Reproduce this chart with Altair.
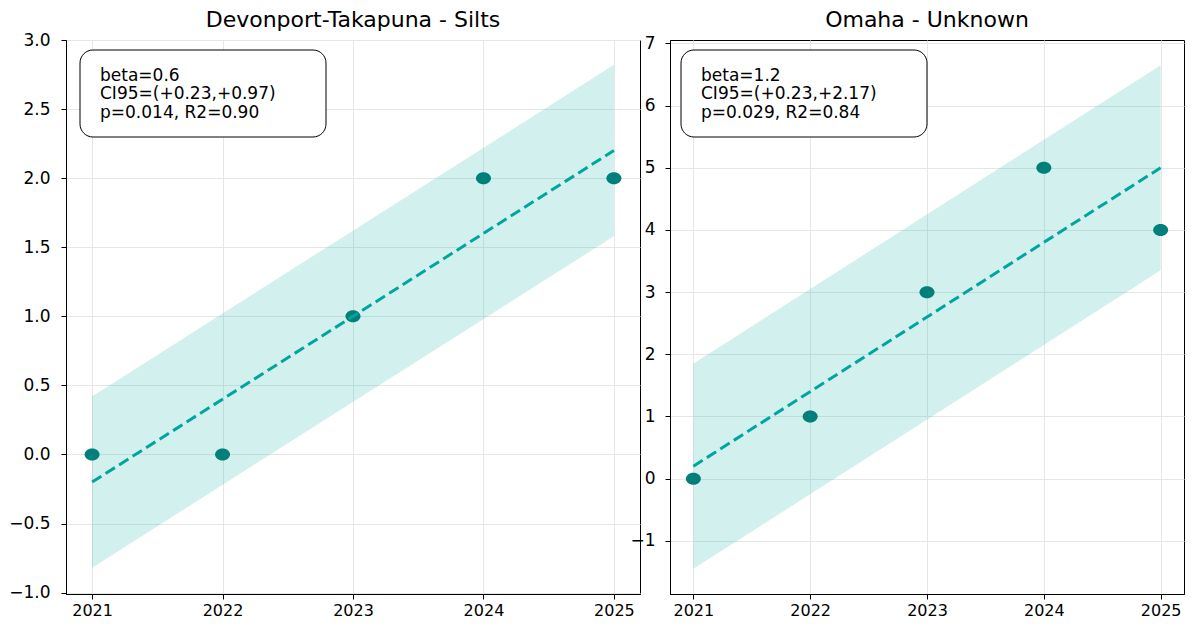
import altair as alt
import pandas as pd

# ---- data ----
years = [2021, 2022, 2023, 2024, 2025]
fit_years = [2021, 2025]

left_title = "Devonport-Takapuna - Silts"
left_counts = [0, 0, 1, 2, 2]
left_fit = [-0.2, 2.2]
left_lo = [-0.82, 1.58]
left_hi = [0.42, 2.82]
left_stats = "beta=0.6\nCI95=(+0.23,+0.97)\np=0.014, R2=0.90"
left_yticks = [-1.0, -0.5, 0.0, 0.5, 1.0, 1.5, 2.0, 2.5, 3.0]
left_ydomain = [-1.01, 3.0]

right_title = "Omaha - Unknown"
right_counts = [0, 1, 3, 5, 4]
right_fit = [0.2, 5.0]
right_lo = [-1.45, 3.35]
right_hi = [1.85, 6.65]
right_stats = "beta=1.2\nCI95=(+0.23,+2.17)\np=0.029, R2=0.84"
right_yticks = [-1, 0, 1, 2, 3, 4, 5, 6, 7]
right_ydomain = [-1.855, 7.055]

xdomain = [2020.8, 2025.2]

ELLIPSE = "M-1,0 A1,0.8 0 1,0 1,0 A1,0.8 0 1,0 -1,0 Z"
BAND_COLOR = "#20B2AA"
LINE_COLOR = "#00A59F"
POINT_COLOR = "#007F7B"
PLOT_H = 554


def panel(title, counts, fit, lo, hi, stats, yticks, ydomain, yfmt, width, ypad,
          box_x, title_offset):
    pts = pd.DataFrame({"year": years, "count": counts})
    fitdf = pd.DataFrame({"year": fit_years, "fit": fit, "lo": lo, "hi": hi})
    sdf = pd.DataFrame({"stats": [stats]})

    xenc = alt.X(
        "year:Q",
        scale=alt.Scale(domain=xdomain, nice=False, zero=False),
        axis=alt.Axis(values=years, format="d", title=None, labelFontSize=16,
                      tickSize=5, labelPadding=3),
    )
    yscale = alt.Scale(domain=ydomain, nice=False, zero=False)
    yaxis = alt.Axis(values=yticks, format=yfmt, title=None,
                     labelFontSize=17, tickSize=5, labelPadding=ypad)

    band = alt.Chart(fitdf).mark_area(color=BAND_COLOR, opacity=0.2).encode(
        x=xenc, y=alt.Y("lo:Q", scale=yscale, axis=yaxis), y2="hi:Q"
    )
    points = alt.Chart(pts).mark_point(
        shape=ELLIPSE, size=225, filled=True, color=POINT_COLOR, opacity=1
    ).encode(x=xenc, y=alt.Y("count:Q", scale=yscale, axis=yaxis))
    line = alt.Chart(fitdf).mark_line(
        color=LINE_COLOR, strokeDash=[11, 5], strokeWidth=3
    ).encode(x=xenc, y=alt.Y("fit:Q", scale=yscale, axis=yaxis))
    box = alt.Chart(sdf).mark_rect(
        fill="white", stroke="black", strokeWidth=1, cornerRadius=13
    ).encode(
        x=alt.value(box_x), x2=alt.value(box_x + 246), y=alt.value(10), y2=alt.value(97)
    )
    text = alt.Chart(sdf).mark_text(
        align="left", baseline="alphabetic", fontSize=17, lineHeight=18.3,
        lineBreak="\n", font="DejaVu Sans", color="black"
    ).encode(x=alt.value(box_x + 20), y=alt.value(41), text="stats:N")

    return alt.layer(band, points, line, box, text).properties(
        width=width, height=PLOT_H,
        title=alt.TitleParams(title, fontSize=22, font="DejaVu Sans", fontWeight="normal",
                              anchor="middle", offset=title_offset, color="black"),
    )


left = panel(left_title, left_counts, left_fit, left_lo, left_hi, left_stats,
             left_yticks, left_ydomain, ".1f", 574, 11, 14, -0.5)
right = panel(right_title, right_counts, right_fit, right_lo, right_hi, right_stats,
              right_yticks, right_ydomain, "d", 514, 10, 11, 2.9)

chart = alt.hconcat(left, right, spacing=30, bounds="flush").resolve_scale(
    y="independent"
).properties(
    padding={"left": 0, "top": 0, "right": 0, "bottom": 0}
).configure(
    font="DejaVu Sans"
).configure_view(
    stroke="black", strokeWidth=1
).configure_axis(
    labelFont="DejaVu Sans", labelColor="black",
    domainColor="black", domainWidth=1, tickColor="black",
    gridColor="#e6e6e6", gridWidth=1,
)

chart.save("out.html", embed_options={"renderer": "svg", "actions": False})
